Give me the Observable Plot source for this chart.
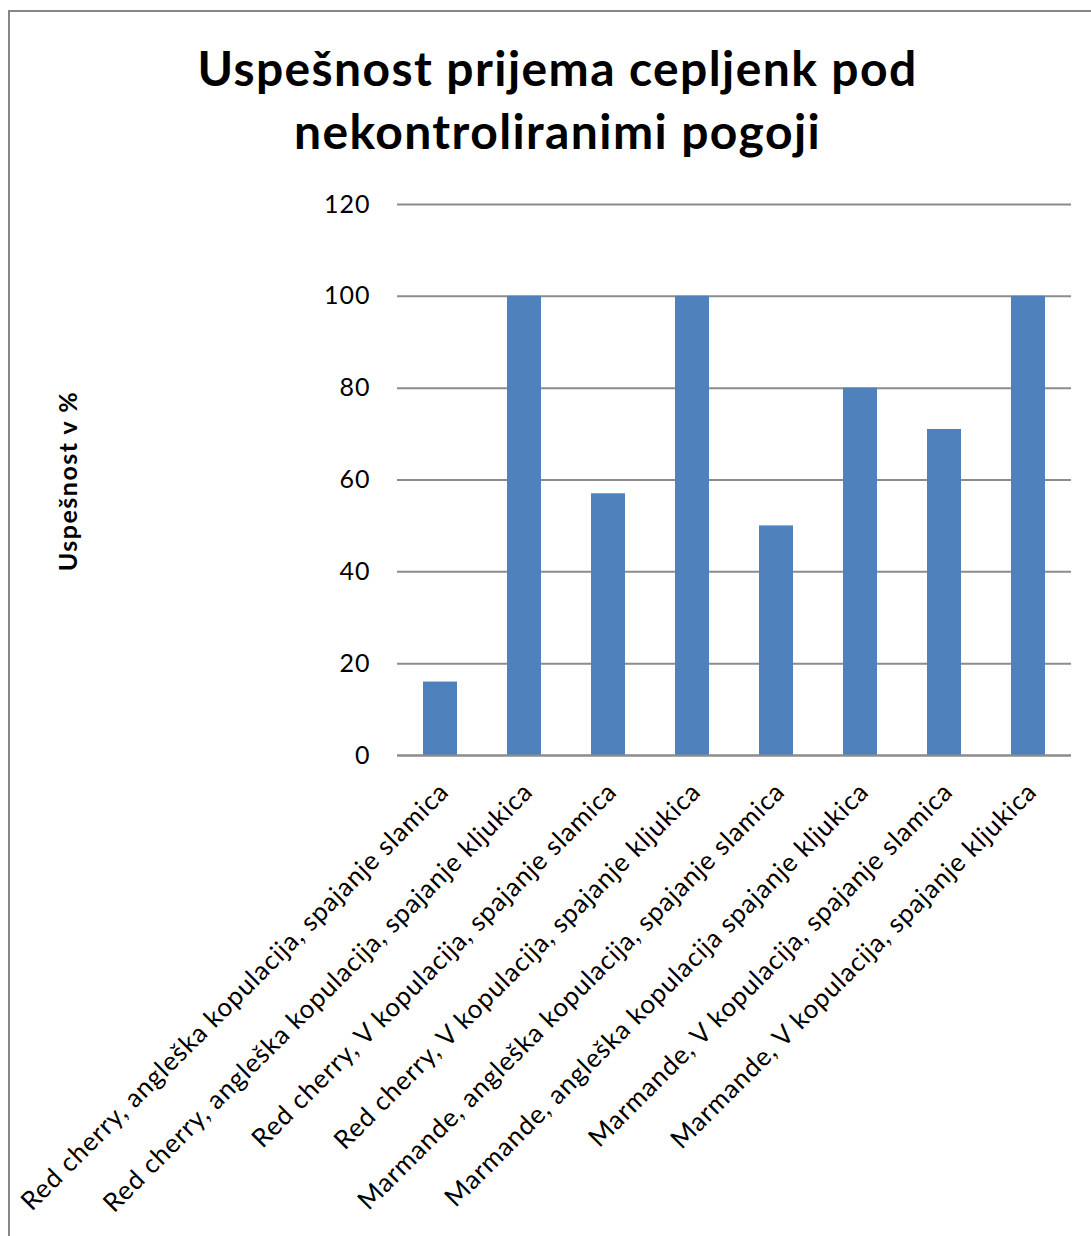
<!DOCTYPE html>
<html>
<head>
<meta charset="utf-8">
<script src="https://cdn.jsdelivr.net/npm/d3@7"></script>
<script src="https://cdn.jsdelivr.net/npm/@observablehq/plot@0.6"></script>
<style>
  html, body { margin: 0; padding: 0; background: #fff; }
  #wrap { position: relative; width: 1091px; height: 1236px; overflow: hidden; font-family: Lato, sans-serif; }
  #frame { position: absolute; left: 8px; top: 10px; width: 1100px; height: 1300px; border-left: 2px solid #868686; border-top: 2px solid #868686; }
  #title { position: absolute; left: 0; width: 1115px; top: 36px; text-align: center; font-weight: bold; font-size: 48px; letter-spacing: 1.4px; line-height: 63px; color: #000; }
  #ylabel { position: absolute; left: 67px; top: 481px; transform: translate(-50%, -50%) rotate(-90deg); font-weight: bold; font-size: 25px; letter-spacing: 1.5px; white-space: nowrap; color: #000; }
  #chart { position: absolute; left: 0; top: 170px; }
  #chart g[aria-label="x-axis tick label"] text { letter-spacing: 0.9px; }
  #chart g[aria-label="y-axis tick label"] text { letter-spacing: 1px; }
</style>
</head>
<body>
<div id="wrap">
  <div id="frame"></div>
  <div id="title"></div>
  <div id="ylabel"></div>
  <div id="chart"></div>
</div>
<script>
const titleLines = ["Uspešnost prijema cepljenk pod", "nekontroliranimi pogoji"];
const yLabel = "Uspešnost v %";
const categories = [
  "Red cherry, angleška kopulacija, spajanje slamica",
  "Red cherry, angleška kopulacija, spajanje kljukica",
  "Red cherry, V kopulacija, spajanje slamica",
  "Red cherry, V kopulacija, spajanje kljukica",
  "Marmande, angleška kopulacija, spajanje slamica",
  "Marmande, angleška kopulacija spajanje kljukica",
  "Marmande, V kopulacija, spajanje slamica",
  "Marmande, V kopulacija, spajanje kljukica"
];
const values = [16, 100, 57, 100, 50, 80, 71, 100];
const yTicks = [0, 20, 40, 60, 80, 100, 120];

document.getElementById("title").innerHTML = titleLines.join("<br>");
document.getElementById("ylabel").textContent = yLabel;

const data = categories.map((c, i) => ({category: c, value: values[i]}));

const chart = Plot.plot({
  width: 1091,
  height: 1066,
  marginTop: 34,
  marginBottom: 481,
  marginLeft: 397,
  marginRight: 20,
  style: {fontFamily: "Lato, sans-serif", fontSize: "24px", color: "#000", background: "transparent"},
  x: {domain: categories, paddingInner: 0.6, paddingOuter: 0.3, label: null},
  y: {domain: [0, 120], label: null},
  marks: [
    Plot.gridY(yTicks, {stroke: "#8c8c8c", strokeOpacity: 1, strokeWidth: 2}),
    Plot.axisY(yTicks, {tickSize: 0, tickPadding: 27, label: null, fontSize: 25}),
    Plot.barY(data, {x: "category", y: "value", fill: "#4F81BD"}),
    Plot.ruleX([0], {frameAnchor: "left", stroke: "#8c8c8c", strokeWidth: 2}),
    Plot.ruleY([0], {stroke: "#8c8c8c", strokeWidth: 2}),
    Plot.axisX({tickSize: 0, tickPadding: 32, tickRotate: -45, label: null, fontSize: 26, dx: 4})
  ]
});
document.getElementById("chart").appendChild(chart);
</script>
</body>
</html>
